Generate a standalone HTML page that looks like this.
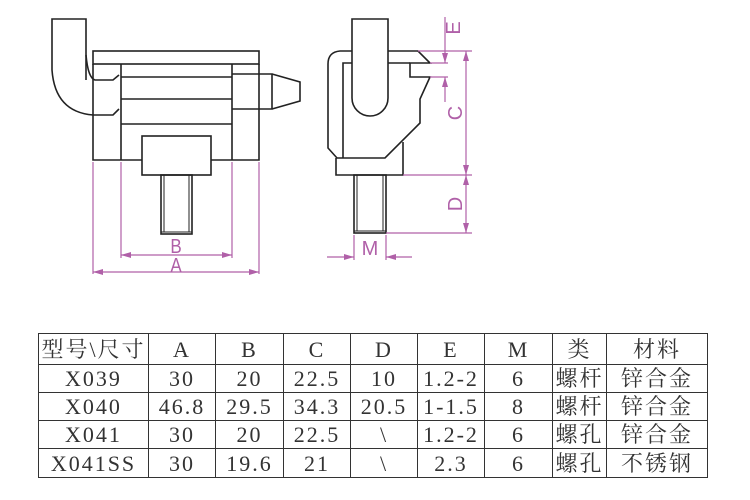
<!DOCTYPE html>
<html><head><meta charset="utf-8"><style>
body{margin:0;background:#fff;width:750px;height:500px;overflow:hidden;position:relative}
svg{position:absolute;left:0;top:0}
table{position:absolute;left:38px;top:333px;border-collapse:collapse;font-family:"Liberation Serif","Noto Serif CJK SC",serif;font-size:22px;color:#333}
td{border:1.5px solid #333;padding:0;text-align:center;height:27px;line-height:27px;letter-spacing:2px;white-space:nowrap}
</style></head><body>
<svg width="750" height="330" viewBox="0 0 750 330">
<defs>
<marker id="ar" markerWidth="10" markerHeight="6" refX="10" refY="3" orient="auto" markerUnits="userSpaceOnUse"><path d="M0,0 L10,3 L0,6 Z" fill="#b060a8"/></marker>
</defs>
<g fill="none" stroke="#222" stroke-width="1.6">
<path d="M86,80 L86,19 L52,19 L52,70 Q55,112 93,115 L113,115 L119,109"/>
<path d="M86,55 Q88,78 95,80 L113,80 L119,75"/>
<rect x="93" y="51" width="166" height="13"/>
<path d="M93,64 L93,160 L259,160 L259,64"/>
<path d="M121,64 V160 M232,64 V160 M121,77 H232 M121,99 H232 M121,124 H232"/>
<path d="M232,74 H272 V109 H232 M272,74 L300,82 V101 L272,109"/>
<rect x="142" y="136" width="69" height="39" fill="#fff"/>
<rect x="161" y="175" width="31" height="59"/>
<path d="M164,175 V232 M189,175 V232 M161,232 H192" stroke-width="1"/>
<path d="M352,51 V98 A18,18 0 0 0 388,98 V19 H352 V51"/>
<path d="M352,51 H340 Q328,52 328,64 V148 L337,158 H385 L420,123 V99 L430,77 H410 V63 H430 L418,51 H388"/>
<path d="M343,158 V63 H352 M388,63 H410"/>
<path d="M336,158 V175 H403 V142"/>
<rect x="354" y="175" width="32" height="58"/>
<path d="M357,175 V231 M383,175 V231 M354,231 H386" stroke-width="1"/>
</g>
<g stroke="#b060a8" stroke-width="1.2" fill="none">
<path d="M93,162 V274 M121,162 V258 M232,162 V258 M259,162 V274"/>
<path d="M176,255 H121" marker-end="url(#ar)"/><path d="M176,255 H232" marker-end="url(#ar)"/>
<path d="M176,272 H93" marker-end="url(#ar)"/><path d="M176,272 H259" marker-end="url(#ar)"/>
<path d="M418,51 H472 M430,63 H448 M430,77 H448 M403,175 H472 M386,233 H472"/>
<path d="M466,113 V51" marker-end="url(#ar)"/><path d="M466,113 V175" marker-end="url(#ar)"/>
<path d="M466,204 V175" marker-end="url(#ar)"/><path d="M466,204 V233" marker-end="url(#ar)"/>
<path d="M445,17 V63" marker-end="url(#ar)"/><path d="M445,102 V77" marker-end="url(#ar)"/>
<path d="M354,235 V260 M386,235 V260"/>
<path d="M327,257 H354" marker-end="url(#ar)"/><path d="M412,257 H386" marker-end="url(#ar)"/>
</g>
<g fill="#b060a8" font-family="Liberation Sans,sans-serif" font-size="20">
<text x="176" y="253" text-anchor="middle" transform="translate(176,0) scale(0.85,1) translate(-176,0)">B</text>
<text x="176" y="272" text-anchor="middle" transform="translate(176,0) scale(0.85,1) translate(-176,0)">A</text>
<text x="370" y="255" text-anchor="middle">M</text>
<text transform="translate(460,28) rotate(-90)" text-anchor="middle">E</text>
<text transform="translate(462,113) rotate(-90)" text-anchor="middle">C</text>
<text transform="translate(462,204) rotate(-90)" text-anchor="middle">D</text>
</g>
</svg>
<table>
<colgroup><col style="width:110px"><col style="width:67px"><col style="width:68px"><col style="width:67px"><col style="width:67px"><col style="width:67px"><col style="width:68px"><col style="width:54px"><col style="width:101px"></colgroup>
<tr style="height:31px"><td>型号\尺寸</td><td>A</td><td>B</td><td>C</td><td>D</td><td>E</td><td>M</td><td>类</td><td>材料</td></tr>
<tr style="height:28px"><td>X039</td><td>30</td><td>20</td><td>22.5</td><td>10</td><td>1.2-2</td><td>6</td><td>螺杆</td><td>锌合金</td></tr>
<tr style="height:28px"><td>X040</td><td>46.8</td><td>29.5</td><td>34.3</td><td>20.5</td><td>1-1.5</td><td>8</td><td>螺杆</td><td>锌合金</td></tr>
<tr style="height:28px"><td>X041</td><td>30</td><td>20</td><td>22.5</td><td>\</td><td>1.2-2</td><td>6</td><td>螺孔</td><td>锌合金</td></tr>
<tr style="height:29px"><td>X041SS</td><td>30</td><td>19.6</td><td>21</td><td>\</td><td>2.3</td><td>6</td><td>螺孔</td><td>不锈钢</td></tr>
</table>
</body></html>
